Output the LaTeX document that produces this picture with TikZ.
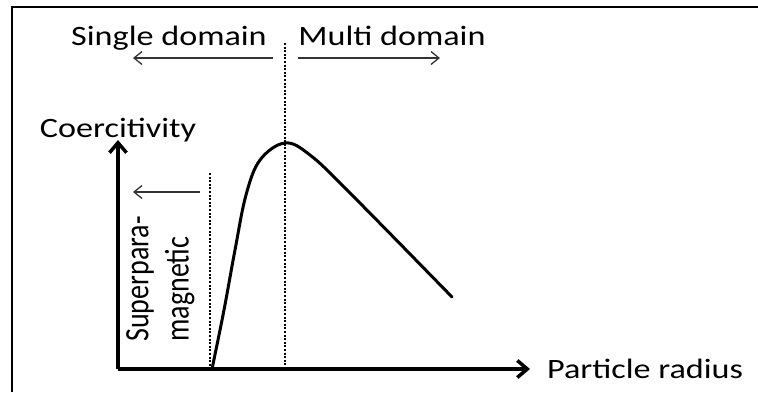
\documentclass[tikz,border=0pt]{standalone}
\usepackage{fontspec}
\setmainfont{Carlito}
\usetikzlibrary{arrows.meta}
\newcommand{\widetxt}[1]{\scalebox{1.22}[1]{#1}}

\begin{document}
\begin{tikzpicture}[x=1pt,y=-1pt,
        lbl/.style={inner sep=0pt,font=\fontsize{28}{33}\selectfont},
        axisline/.style={line width=3.5pt,-{Straight Barb[length=10pt,width=17pt,line width=3.5pt]}},
        thinarrow/.style={line width=1.3pt,black!80,-{Straight Barb[length=8pt,width=13pt,line width=1.3pt]}},
        dotline/.style={line width=2pt,dash pattern=on 2pt off 1.6pt}]
        \useasboundingbox (0,0) rectangle (758,392);

        %%% Frame %%%
        \draw[line width=2.5pt] (12,392)--(12,7)--(758,7);

        %%% Axes %%%
        \coordinate (O) at (118,369);
        \coordinate (ytip) at (118,140);
        \coordinate (xtip) at (530,369);
        \draw[axisline] (O)--(ytip);
        \draw[axisline] (O)--(xtip);
        \node[lbl,anchor=base] (coer) at (118,137) {\widetxt{Coercitivity}};
        \node[lbl,anchor=base] (radius) at (645,378) {\widetxt{Particle radius}};

        %%% Domain borders %%%
        \coordinate (peaktop) at (285,43);
        \coordinate (peakfoot) at (285,369);
        \coordinate (sptop) at (210,173);
        \coordinate (spfoot) at (210,369);
        \draw[dotline] (peaktop)--(peakfoot);
        \draw[dotline] (sptop)--(spfoot);

        %%% Curve %%%
        \draw[line width=3pt,line cap=round] plot[smooth,tension=0.6] coordinates
            {(212,369) (224,310) (235,250) (246,195) (260,160) (285,143) (310,155) (350,193) (452,297)};

        %%% Regions %%%
        \node[lbl,anchor=base] (single) at (169,45) {\widetxt{Single domain}};
        \node[lbl,anchor=base] (multi) at (392,45) {\widetxt{Multi domain}};
        \coordinate (sd1) at (273,58);
        \coordinate (sd2) at (133,58);
        \coordinate (md1) at (298,58);
        \coordinate (md2) at (440,58);
        \draw[thinarrow] (sd1)--(sd2);
        \draw[thinarrow] (md1)--(md2);

        %%% Superparamagnetic %%%
        \coordinate (sp1) at (200,192);
        \coordinate (sp2) at (133,192);
        \draw[thinarrow] (sp1)--(sp2);
        \node[lbl,rotate=90] (superpara) at (160.5,279)
            {\scalebox{1}[1.22]{\begin{tabular}{@{}l@{}}Superpara-\\magnetic\end{tabular}}};
    \end{tikzpicture}
\end{document}
